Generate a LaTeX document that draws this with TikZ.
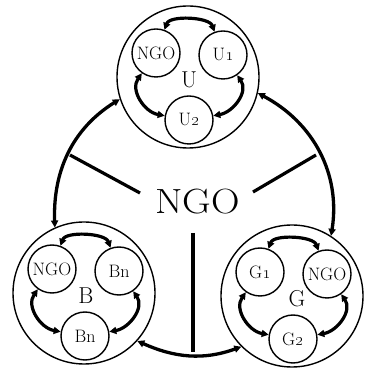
\RequirePackage{fix-cm}
\documentclass[tikz,border=0pt]{standalone}
\usepackage{graphicx}
\usetikzlibrary{arrows.meta}
\tikzset{
  grp/.style={circle, draw, line width=1.4pt, minimum size=142pt, inner sep=0pt},
  sm/.style={circle, draw, line width=1.4pt, minimum size=48pt, inner sep=0pt,
             font=\fontsize{18}{18}\selectfont},
  glabel/.style={inner sep=0pt, font=\fontsize{23}{23}\selectfont},
  hublabel/.style={inner sep=0pt, font=\fontsize{35}{35}\selectfont},
  tip/.tip={Triangle[length=7pt,width=7pt]},
  thk/.style={line width=3.2pt, tip-tip},
  ringarc/.style={line width=3.3pt, tip-tip},
  spoke/.style={line width=3.2pt},
}
\newcommand\mkgroup[7]{% name, center, left, right, bottom, label, label offset
  \node[grp] (#1) at (#2) {};
  \begin{scope}[shift={(#2)}]
    \node[sm] (#1l) at (-32,24) {#3};
    \node[sm] (#1r) at (35,22) {#4};
    \node[sm] (#1b) at (1,-43) {#5};
    \node[glabel] (#1t) at (#7) {#6};
  \end{scope}
  \draw[thk] (#1l) to[out=70,in=110,looseness=0.8] (#1r);
  \draw[thk] (#1l) to[out=235,in=170,looseness=1.1] (#1b);
  \draw[thk] (#1r) to[out=305,in=10,looseness=1.1] (#1b);
}
\begin{document}
\begin{tikzpicture}[x=1pt,y=1pt]
  \useasboundingbox (0,0) rectangle (364,374);
  \mkgroup{U}{188,297}{NGO}{U\oldstylenums{1}}{U\oldstylenums{2}}{U}{1,-3}
  \mkgroup{B}{84,81}{NGO}{Bn}{Bn}{B}{2,-3}
  \mkgroup{G}{292,78}{G\oldstylenums{1}}{NGO}{G\oldstylenums{2}}{G}{5,-3}
  % outer ring
  \draw[ringarc] (U.198) to[out=212,in=92] (B.114);
  \draw[ringarc] (U.347) to[out=332,in=81] (G.57);
  \draw[ringarc] (B.318) to[out=336,in=200] (G.225);
  % hub
  \node[hublabel] (hub) at (197.5,172) {\scalebox{1.13}[1]{NGO}};
  \coordinate (sli) at (140,181);
  \coordinate (slo) at (70,219);
  \coordinate (sri) at (253,182);
  \coordinate (sro) at (316,219);
  \coordinate (sbi) at (193,141);
  \coordinate (sbo) at (193,22);
  \draw[spoke] (sli) -- (slo);
  \draw[spoke] (sri) -- (sro);
  \draw[spoke] (sbi) -- (sbo);
\end{tikzpicture}
\end{document}
